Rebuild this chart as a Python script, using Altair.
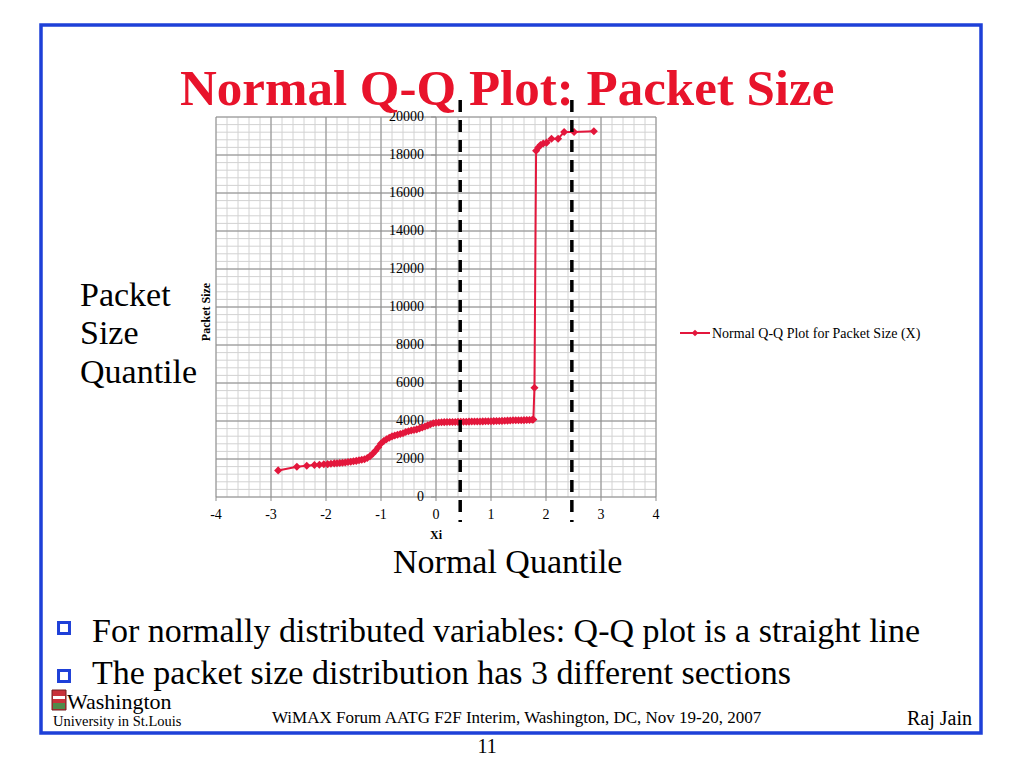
import altair as alt
import pandas as pd

# ---------------- data ----------------
qq_x = [-2.87, -2.53, -2.35, -2.21, -2.12, -2.04, -1.97, -1.91, -1.85, -1.80,
        -1.75, -1.70, -1.65, -1.60, -1.55, -1.50, -1.45, -1.40, -1.35, -1.30,
        -1.25, -1.20, -1.15, -1.10, -1.05, -1.00, -0.95, -0.90, -0.85, -0.80,
        -0.75, -0.70, -0.65, -0.60, -0.55, -0.50, -0.45, -0.40, -0.35, -0.30,
        -0.25, -0.20, -0.15, -0.10, -0.05, 0.00, 0.05, 0.10, 0.15, 0.20,
        0.25, 0.30, 0.35, 0.40, 0.45, 0.50, 0.55, 0.60, 0.65, 0.70,
        0.75, 0.80, 0.85, 0.90, 0.95, 1.00, 1.05, 1.10, 1.15, 1.20,
        1.25, 1.30, 1.35, 1.40, 1.45, 1.50, 1.55, 1.60, 1.65, 1.70,
        1.75, 1.77, 1.79, 1.82, 1.86, 1.90, 1.95, 2.01, 2.10, 2.22,
        2.33, 2.51, 2.87]
qq_y = [1400, 1590, 1640, 1680, 1700, 1720, 1730, 1750, 1770, 1780,
        1790, 1800, 1820, 1840, 1860, 1880, 1900, 1930, 1960, 1990,
        2050, 2150, 2280, 2430, 2620, 2820, 2950, 3040, 3120, 3190,
        3240, 3280, 3320, 3360, 3420, 3460, 3500, 3530, 3560, 3610,
        3660, 3710, 3770, 3830, 3880, 3910, 3925, 3935, 3940, 3945,
        3948, 3950, 3952, 3955, 3958, 3960, 3963, 3966, 3970, 3972,
        3975, 3978, 3980, 3983, 3986, 3990, 3994, 3998, 4000, 4005,
        4012, 4020, 4028, 4035, 4038, 4040, 4042, 4045, 4048, 4052,
        4065, 4080, 5750, 18220, 18390, 18530, 18610, 18650, 18860, 18860,
        19210, 19210, 19250]

section_x = [0.44, 2.47]          # dashed section separators
x_ticks = [-4, -3, -2, -1, 0, 1, 2, 3, 4]
y_ticks = [0, 2000, 4000, 6000, 8000, 10000, 12000, 14000, 16000, 18000, 20000]
x_minor = [round(-4 + 0.2 * i, 2) for i in range(41)]
y_minor = [400 * i for i in range(51)]

title_text = "Normal Q-Q Plot: Packet Size"
series_name = "Normal Q-Q Plot for Packet Size (X)"
x_title = "Xi"
y_title = "Packet Size"
side_label = ["Packet", "Size", "Quantile"]
bottom_label = "Normal Quantile"
bullets = ["For normally distributed variables: Q-Q plot is a straight line",
           "The packet size distribution has 3 different sections"]
footer = "WiMAX Forum AATG F2F Interim, Washington, DC, Nov 19-20, 2007"
author = "Raj Jain"
page_no = "11"
logo1 = "Washington"
logo2 = "University in St.Louis"

# ---------------- layout ----------------
W, H = 440, 380
OX, OY = 216, 117          # page position of plot origin
SERIF = "Liberation Serif"
RED = "#E3173C"
TITLE_RED = "#E8132B"
BLUE = "#1E40D8"
MAJOR = "#8C8C8C"
MINOR = "#D2D2D2"

xs = alt.Scale(domain=[-4, 4], nice=False, zero=False)
ys = alt.Scale(domain=[0, 20000], nice=False, zero=False)
XQ = lambda: alt.X("x:Q", scale=xs, axis=None)
YQ = lambda: alt.Y("y:Q", scale=ys, axis=None)

def one(v):
    return pd.DataFrame({"t": [v]})

def label(text, px, py, size, align="left", weight="normal", color="black",
          angle=0, baseline="alphabetic", font=SERIF):
    kw = dict(align=align, baseline=baseline, fontSize=size, font=font,
              fontWeight=weight, color=color)
    if angle:
        kw["angle"] = angle
    return alt.Chart(one(text)).mark_text(**kw).encode(
        x=alt.value(px - OX), y=alt.value(py - OY), text="t:N")

qq = pd.DataFrame({"x": qq_x, "y": qq_y})
xt = pd.DataFrame({"x": x_ticks, "lab": [str(v) for v in x_ticks]})
yt = pd.DataFrame({"y": y_ticks, "lab": [str(v) for v in y_ticks]})

# grid
minor_v = alt.Chart(pd.DataFrame({"x": x_minor})).mark_rule(
    color=MINOR, strokeWidth=1).encode(x=XQ(), y=alt.value(0), y2=alt.value(H))
minor_h = alt.Chart(pd.DataFrame({"y": y_minor})).mark_rule(
    color=MINOR, strokeWidth=1).encode(y=YQ(), x=alt.value(0), x2=alt.value(W))
major_v = alt.Chart(xt).mark_rule(color=MAJOR, strokeWidth=1).encode(
    x=XQ(), y=alt.value(0), y2=alt.value(H))
major_h = alt.Chart(yt).mark_rule(color=MAJOR, strokeWidth=1).encode(
    y=YQ(), x=alt.value(0), x2=alt.value(W))

# axis ticks and labels (x axis at bottom, y axis crossing at x = 0)
x_tickmarks = alt.Chart(xt).mark_rule(color=MAJOR, strokeWidth=1).encode(
    x=XQ(), y=alt.value(H), y2=alt.value(H + 4))
x_labels = alt.Chart(xt).mark_text(font=SERIF, fontSize=14, color="black",
                                   baseline="middle", align="center").encode(
    x=XQ(), y=alt.value(H + 18), text="lab:N")
y_tickmarks = alt.Chart(yt).mark_rule(color=MAJOR, strokeWidth=1).encode(
    y=YQ(), x=alt.value(W / 2 - 5), x2=alt.value(W / 2))
y_labels = alt.Chart(yt).mark_text(font=SERIF, fontSize=14, color="black",
                                   baseline="middle", align="right").encode(
    y=YQ(), x=alt.value(W / 2 - 12), text="lab:N")

# series
line = alt.Chart(qq).mark_line(color=RED, strokeWidth=2).encode(x=XQ(), y=YQ())
pts = alt.Chart(qq).mark_point(shape="diamond", filled=True, color=RED,
                               size=65, opacity=1).encode(x=XQ(), y=YQ())

dashes = alt.Chart(pd.DataFrame({"x": section_x})).mark_rule(
    color="black", strokeWidth=3.5, strokeDash=[12, 8]).encode(
    x=XQ(), y=alt.value(100 - OY), y2=alt.value(522 - OY))

# legend
leg_line = alt.Chart(one("l")).mark_rule(color=RED, strokeWidth=2).encode(
    x=alt.value(680 - OX), x2=alt.value(710 - OX), y=alt.value(333 - OY))
leg_pt = alt.Chart(one("p")).mark_point(shape="diamond", filled=True,
                                         color=RED, size=45, opacity=1).encode(
    x=alt.value(695 - OX), y=alt.value(333 - OY))

# slide border
border = alt.Chart(one("b")).mark_rect(filled=False, stroke=BLUE,
                                        strokeWidth=3.5).encode(
    x=alt.value(41 - OX), x2=alt.value(981 - OX),
    y=alt.value(25 - OY), y2=alt.value(733 - OY))

# bullets
def bullet(py):
    return alt.Chart(one("q")).mark_point(
        shape="square", filled=False, stroke=BLUE, strokeWidth=3, size=120,
        opacity=1).encode(x=alt.value(64 - OX), y=alt.value(py - OY))

# logo shield
shield = alt.Chart(one("s")).mark_rect(fill="#C8323A", stroke="#6E1E1E",
                                        strokeWidth=1).encode(
    x=alt.value(52 - OX), x2=alt.value(66 - OX),
    y=alt.value(690 - OY), y2=alt.value(710 - OY))
shield_g = alt.Chart(one("g")).mark_rect(fill="#4E8B4A").encode(
    x=alt.value(53 - OX), x2=alt.value(65 - OX),
    y=alt.value(703 - OY), y2=alt.value(709 - OY))
shield_w = alt.Chart(one("w")).mark_rect(fill="white").encode(
    x=alt.value(53 - OX), x2=alt.value(65 - OX),
    y=alt.value(696 - OY), y2=alt.value(699 - OY))

texts = [
    label(title_text, 180, 105, 51, weight="bold", color=TITLE_RED),
    label(side_label[0], 80, 306, 34),
    label(side_label[1], 80, 344, 34),
    label(side_label[2], 80, 383, 34),
    label(bottom_label, 393, 573, 34),
    label(bullets[0], 92, 642, 34),
    label(bullets[1], 92, 684, 34),
    label(footer, 272, 723, 17),
    label(author, 907, 725, 20),
    label(page_no, 487, 753, 20, align="center"),
    label(logo1, 67, 709, 22),
    label(logo2, 53, 726, 14.5),
    label(series_name, 712, 338, 14),
    label(x_title, 436, 535, 12, align="center", weight="bold",
          baseline="middle"),
    label(y_title, 206, 312, 12, align="center", weight="bold",
          angle=270, baseline="middle"),
]

chart = alt.layer(
    minor_v, minor_h, major_v, major_h, x_tickmarks, y_tickmarks,
    x_labels, y_labels, line, pts, dashes,
    leg_line, leg_pt, border, bullet(628), bullet(676),
    shield, shield_g, shield_w, *texts
).properties(
    width=W, height=H,
    autosize=alt.AutoSizeParams(type="none"),
    padding={"left": OX - 8, "top": OY - 8,
             "right": 1008 - (OX - 8) - W, "bottom": 752 - (OY - 8) - H},
    background="white",
).configure_view(stroke=None)

chart.save("out.html", embed_options={"renderer": "svg", "actions": False})
